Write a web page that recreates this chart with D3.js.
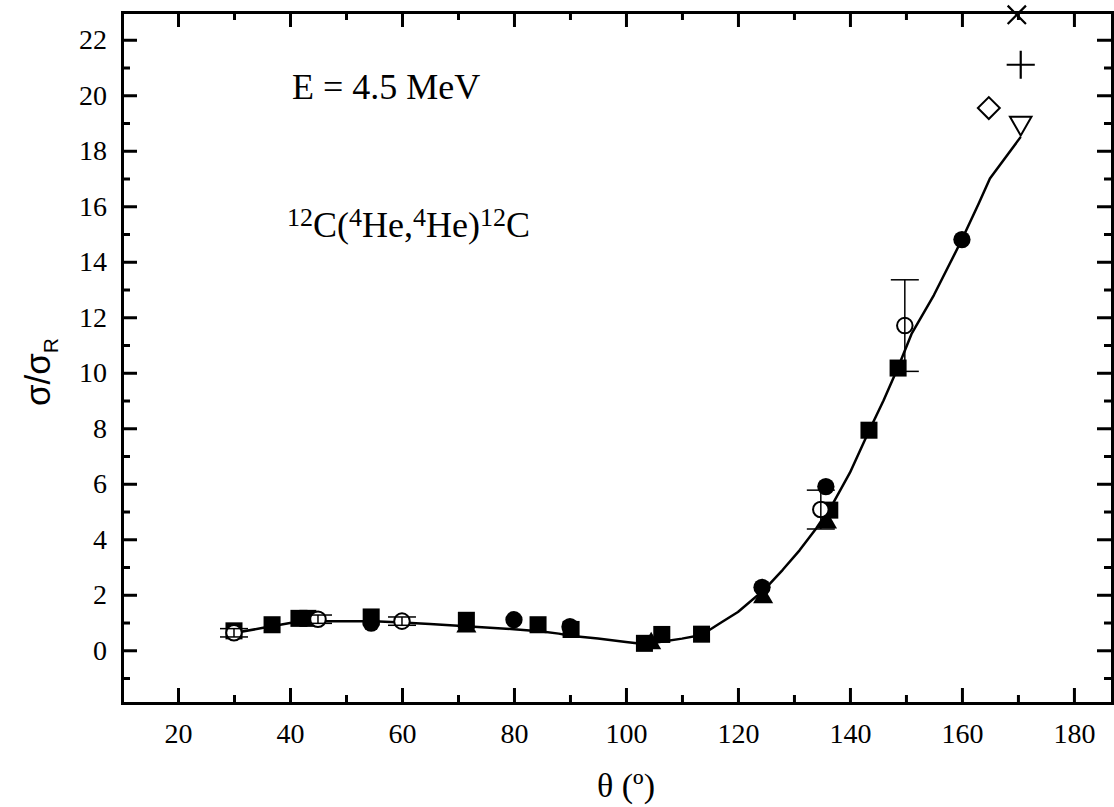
<!DOCTYPE html>
<html>
<head>
<meta charset="utf-8">
<script src="https://cdn.jsdelivr.net/npm/d3@7/dist/d3.min.js"></script>
<style>
  html, body { margin: 0; padding: 0; background: #fff; }
  svg { display: block; }
  .axis path, .axis line { stroke: #000; stroke-width: 3; }
  .axis text { font-family: "Liberation Serif", "Times New Roman", serif; font-size: 28px; fill: #000; }
</style>
</head>
<body>
<svg id="chart" width="1114" height="807"></svg>
<script>
// Scattering angle ticks and ratio ticks
const thetaMajor = [20, 40, 60, 80, 100, 120, 140, 160, 180];
const thetaMinor = [30, 50, 70, 90, 110, 130, 150, 170];
const ratioMajor = [0, 2, 4, 6, 8, 10, 12, 14, 16, 18, 20, 22];
const ratioMinor = [-1, 1, 3, 5, 7, 9, 11, 13, 15, 17, 19, 21];

// Calculated excitation curve
const curveTheta = [30, 35, 40, 45, 50, 55, 60, 65, 70, 75, 80, 85, 88, 90, 95, 100, 103.5, 106, 110, 113.5, 117, 120, 124.8, 128, 131, 134, 137, 140, 143.4, 146, 148.6, 151, 155, 160, 163, 165, 170.5];
const curveRatio = [0.62, 0.8, 0.98, 1.05, 1.05, 1.05, 1.0, 0.95, 0.88, 0.82, 0.76, 0.68, 0.6, 0.52, 0.42, 0.3, 0.22, 0.3, 0.42, 0.55, 1.0, 1.38, 2.2, 2.9, 3.6, 4.4, 5.3, 6.4, 7.9, 9.0, 10.2, 11.4, 12.8, 14.8, 16.1, 17.0, 18.5];

// Measured data sets
const squareTheta = [30, 36.8, 41.6, 43.2, 54.5, 71.5, 84.3, 90.2, 103.3, 106.4, 113.5, 136.4, 143.4, 148.6];
const squareRatio = [0.7, 0.92, 1.15, 1.15, 1.2, 1.08, 0.92, 0.75, 0.25, 0.57, 0.58, 5.05, 7.93, 10.17];

const dotTheta = [54.5, 80, 90, 124.3, 135.7, 160];
const dotRatio = [0.98, 1.1, 0.85, 2.27, 5.9, 14.8];

const triTheta = [71.5, 104.5, 124.5, 135.9];
const triRatio = [0.85, 0.25, 1.9, 4.6];

const ringTheta = [30, 45, 60, 134.8, 149.8];
const ringRatio = [0.63, 1.12, 1.05, 5.07, 11.7];
const ringErr   = [0.15, 0.15, 0.15, 0.7, 1.65];

const diamondTheta = [164.8], diamondRatio = [19.54];
const crossTheta = [169.8],   crossRatio = [22.9];
const plusTheta = [170.5],    plusRatio = [21.1];
const downTriTheta = [170.5], downTriRatio = [19.0];

const svg = d3.select("#chart");
svg.append("rect").attr("width", 1114).attr("height", 807).attr("fill", "#fff");

const L = 122, R = 1112, T = 12, B = 703;
const x = d3.scaleLinear().domain([10, 186.8]).range([L, R]);
const y = d3.scaleLinear().domain([-1.9, 23]).range([B, T]);

const zip = (a, b) => a.map((v, i) => [v, b[i]]);

// Axes: ticks point into the frame
const major = 15, minor = 8;
function addAxis(gen, tx, ty, values, size, labels, pad) {
  const g = svg.append("g").attr("class", "axis").attr("transform", `translate(${tx},${ty})`)
    .call(gen.tickValues(values).tickSize(-size).tickPadding(pad || 0)
      .tickFormat(labels ? d3.format("d") : ""));
  if (!labels) g.select(".domain").remove();
  return g;
}
const axBottom = addAxis(d3.axisBottom(x), 0, B, thetaMajor, major, true, 20);
addAxis(d3.axisBottom(x), 0, B, thetaMinor, minor, false);
const axLeft = addAxis(d3.axisLeft(y), L, 0, ratioMajor, major, true, 15);
addAxis(d3.axisLeft(y), L, 0, ratioMinor, minor, false);
const axTop = addAxis(d3.axisTop(x), 0, T, thetaMajor, major, true, 0);
axTop.selectAll("text").remove();
addAxis(d3.axisTop(x), 0, T, thetaMinor, minor, false);
const axRight = addAxis(d3.axisRight(y), R, 0, ratioMajor, major, true, 0);
axRight.selectAll("text").remove();
addAxis(d3.axisRight(y), R, 0, ratioMinor, minor, false);
[axBottom, axLeft, axTop, axRight].forEach(g => g.select(".domain").attr("stroke-linecap", "square"));

// Axis titles
const serif = "Liberation Serif, Times New Roman, serif";
svg.append("text")
  .attr("x", 626).attr("y", 797).attr("text-anchor", "middle")
  .attr("font-family", serif).attr("font-size", 34)
  .text("θ (º)");

const yl = svg.append("text")
  .attr("transform", "translate(50,372) rotate(-90)").attr("text-anchor", "middle")
  .attr("font-family", "Liberation Sans, Arial, sans-serif").attr("font-size", 35);
yl.append("tspan").text("σ/σ");
yl.append("tspan").attr("font-size", 21).attr("dy", 8).text("R");

// Annotations
svg.append("text").attr("x", 292).attr("y", 99).attr("font-family", serif).attr("font-size", 36)
  .text("E = 4.5 MeV");

const rx = svg.append("text").attr("x", 287).attr("y", 237).attr("font-family", serif).attr("font-size", 36);
[["12", true], ["C(", false], ["4", true], ["He,", false], ["4", true], ["He)", false], ["12", true], ["C", false]]
  .forEach(([t, sup], i, arr) => {
    const prevSup = i > 0 && arr[i - 1][1];
    let dy = 0;
    if (sup && !prevSup) dy = -11;
    if (!sup && prevSup) dy = 11;
    rx.append("tspan").attr("font-size", sup ? 26 : 36).attr("dy", dy).text(t);
  });

// Calculated curve
svg.append("path")
  .datum(zip(curveTheta, curveRatio))
  .attr("fill", "none").attr("stroke", "#000").attr("stroke-width", 2.5).attr("stroke-linejoin", "round")
  .attr("d", d3.line().x(d => x(d[0])).y(d => y(d[1])));

// Marker helpers
function symbols(th, ra, type, size, fill, stroke, sw, rot) {
  svg.append("g").selectAll("path").data(zip(th, ra)).join("path")
    .attr("transform", d => `translate(${x(d[0])},${y(d[1])})${rot ? ` rotate(${rot})` : ""}`)
    .attr("d", d3.symbol().type(type).size(size))
    .attr("fill", fill).attr("stroke", stroke).attr("stroke-width", sw);
}

symbols(squareTheta, squareRatio, d3.symbolSquare, 290, "#000", "none", 0);
symbols(dotTheta, dotRatio, d3.symbolCircle, 235, "#000", "none", 0);
symbols(triTheta, triRatio, d3.symbolTriangle, 175, "#000", "none", 0);
symbols(ringTheta, ringRatio, d3.symbolCircle, 190, "#fff", "#000", 2);

// Error bars on the open-circle set
const eb = svg.append("g").attr("stroke", "#000").attr("stroke-width", 1.5);
zip(ringTheta, ringRatio).forEach((d, i) => {
  const cx = x(d[0]), hi = y(d[1] + ringErr[i]), lo = y(d[1] - ringErr[i]);
  eb.append("line").attr("x1", cx).attr("x2", cx).attr("y1", hi).attr("y2", lo);
  eb.append("line").attr("x1", cx - 14).attr("x2", cx + 14).attr("y1", hi).attr("y2", hi);
  eb.append("line").attr("x1", cx - 14).attr("x2", cx + 14).attr("y1", lo).attr("y2", lo);
});

// Backward-angle points
symbols(diamondTheta, diamondRatio, d3.symbolSquare, 240, "#fff", "#000", 2, 45);
symbols(downTriTheta, downTriRatio, d3.symbolTriangle, 200, "#fff", "#000", 2, 180);
symbols(crossTheta, crossRatio, d3.symbolX, 220, "none", "#000", 2.2);
symbols(plusTheta, plusRatio, d3.symbolPlus, 260, "none", "#000", 2.2);
</script>
</body>
</html>
